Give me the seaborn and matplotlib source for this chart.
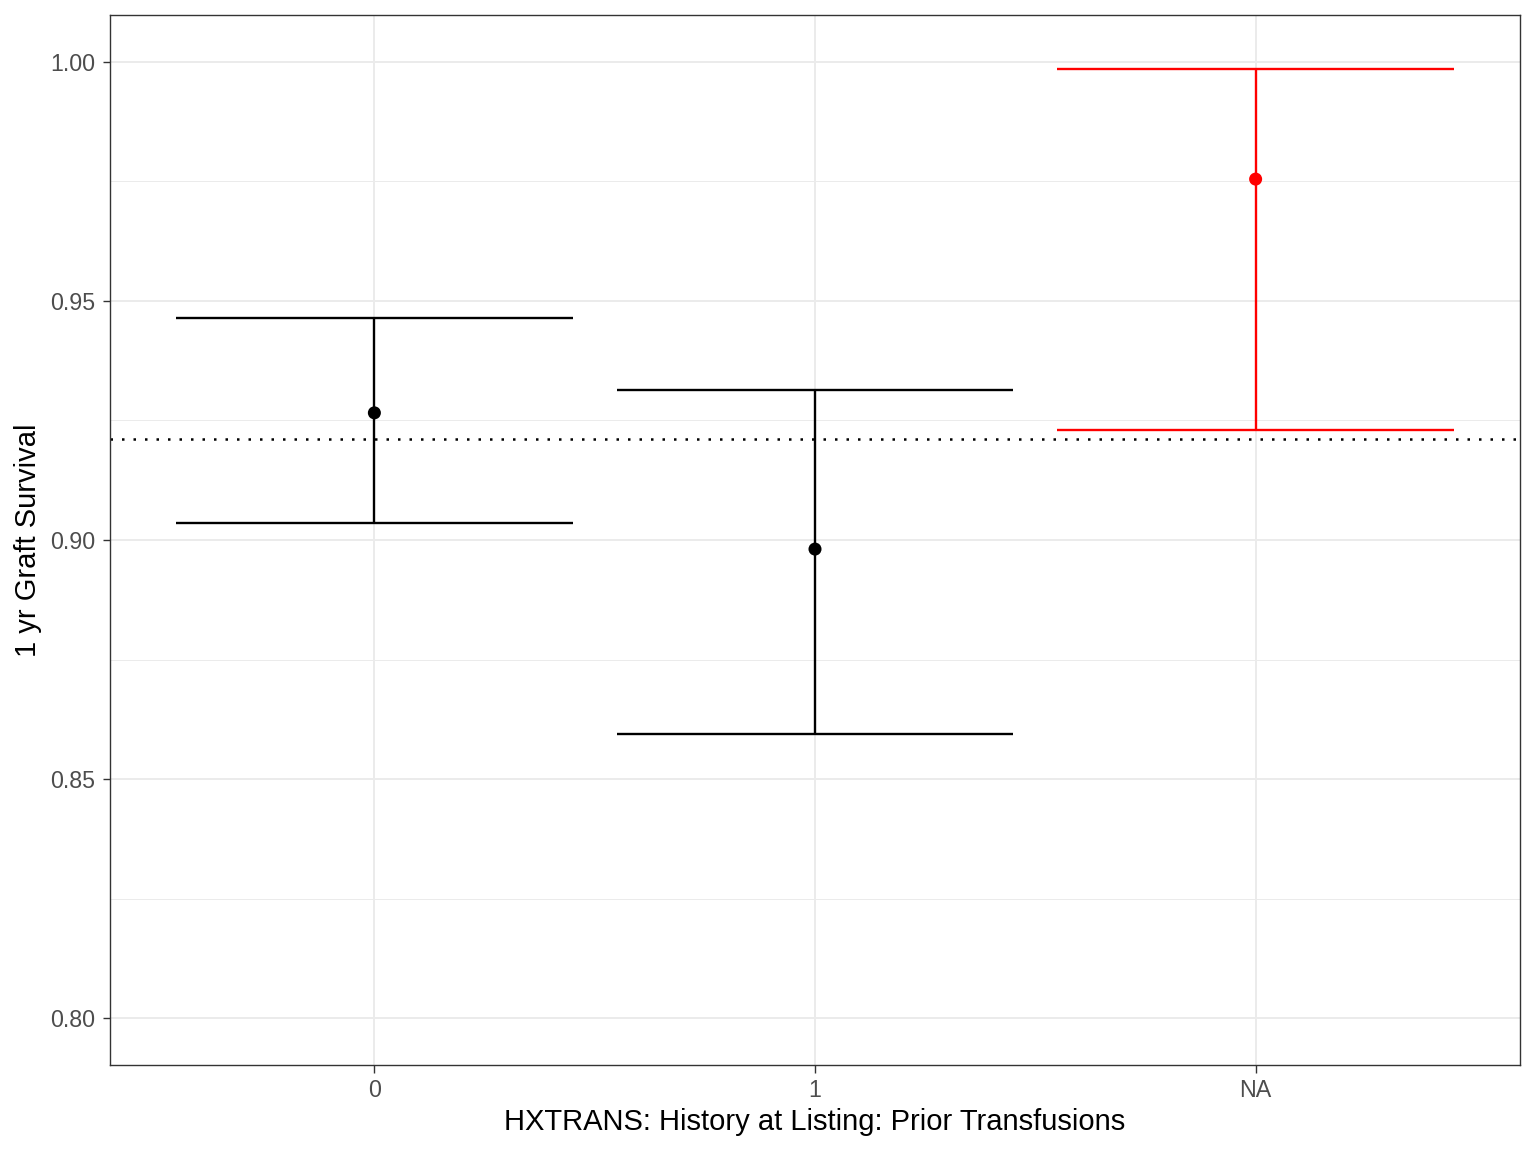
import matplotlib
matplotlib.use("Agg")
import matplotlib.pyplot as plt
import seaborn as sns
import pandas as pd

# Values
categories = ["0", "1", "NA"]
estimate = [0.9266, 0.8981, 0.9755]
lower = [0.9036, 0.8594, 0.9230]
upper = [0.9464, 0.9314, 0.9985]
colors = ["black", "black", "red"]
overall = 0.9211

df = pd.DataFrame({"cat": categories, "est": estimate, "lo": lower, "hi": upper})

sns.set_theme(style="white")
plt.rcParams['font.family'] = ['Liberation Sans', 'DejaVu Sans']

fig = plt.figure(figsize=(7.68, 5.76), dpi=200)
ax = fig.add_axes([110 / 1536, 1 - 1065 / 1152, 1410 / 1536, 1050 / 1152])

# grid (ggplot theme_bw look)
for y in [0.825, 0.875, 0.925, 0.975]:
    ax.axhline(y, color="#EBEBEB", lw=0.35, zorder=0)
for y in [0.80, 0.85, 0.90, 0.95, 1.00]:
    ax.axhline(y, color="#EBEBEB", lw=0.7, zorder=0)
for x in range(len(categories)):
    ax.axvline(x, color="#EBEBEB", lw=0.7, zorder=0)

# error bars
for i, row in df.iterrows():
    ax.vlines(i, row["lo"], row["hi"], color=colors[i], lw=0.85, zorder=2)
    ax.hlines([row["lo"], row["hi"]], i - 0.45, i + 0.45, color=colors[i], lw=0.85, zorder=2)

sns.scatterplot(data=df, x="cat", y="est", hue="cat", palette=colors, s=22,
                edgecolor="none", legend=False, ax=ax, zorder=3)

ax.axhline(overall, color="black", lw=0.9, linestyle=(0, (1, 3.6)), zorder=2)

ax.set_xlim(-0.6, 2.6)
ax.set_ylim(0.79017, 1.00983)
ax.set_xticks(range(len(categories)))
ax.set_xticklabels(categories)
ax.set_yticks([0.80, 0.85, 0.90, 0.95, 1.00])
ax.set_yticklabels(["0.80", "0.85", "0.90", "0.95", "1.00"])
ax.tick_params(axis="both", length=2.7, width=0.5, color="#333333",
               labelsize=8.4, labelcolor="#4D4D4D", pad=2.5, bottom=True, left=True)
for s in ax.spines.values():
    s.set_color("#333333")
    s.set_linewidth(0.5)

ax.set_xlabel("HXTRANS: History at Listing: Prior Transfusions", fontsize=10.5, color="black", labelpad=2)
ax.set_ylabel("1 yr Graft Survival", fontsize=10.5, color="black", labelpad=3)

fig.savefig("out.png", dpi=200)
